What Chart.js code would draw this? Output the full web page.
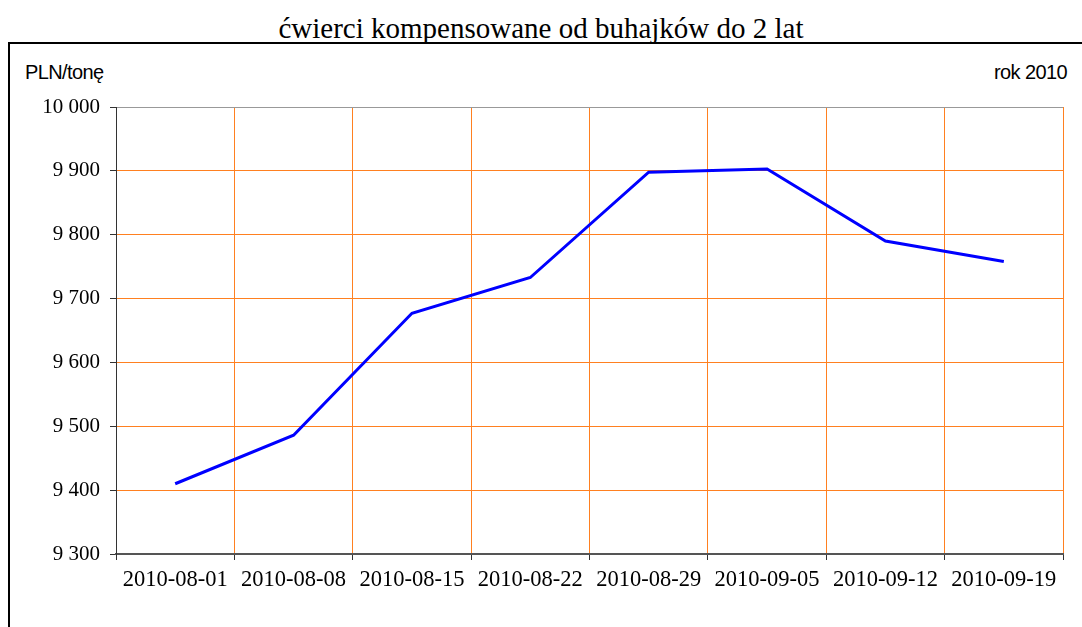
<!DOCTYPE html>
<html>
<head>
<meta charset="utf-8">
<script src="https://cdn.jsdelivr.net/npm/chart.js@4"></script>
<style>
  body { margin: 0; background: #fff; width: 1082px; height: 627px; overflow: hidden; position: relative; }
  #title { position: absolute; left: 0; width: 1082px; top: 14px; line-height: 29px; text-align: center; font-family: "Liberation Serif", serif; font-size: 29px; color: #000; }
  #frame { position: absolute; left: 8px; top: 42px; width: 1200px; height: 700px; border: 2px solid #000; }
  .side { position: absolute; top: 61px; font: 20px "Liberation Sans", Arial, sans-serif; letter-spacing: -0.6px; color: #000; }
  #unit { left: 25px; }
  #year { right: 15px; }
  #chart { position: absolute; left: 0; top: 0; }
</style>
</head>
<body>
<div id="title">ćwierci kompensowane od buhajków do 2 lat</div>
<div id="frame"></div>
<div class="side" id="unit">PLN/tonę</div>
<div class="side" id="year">rok 2010</div>
<canvas id="chart" width="1082" height="627"></canvas>
<script>
const labels = ['2010-08-01', '2010-08-08', '2010-08-15', '2010-08-22', '2010-08-29', '2010-09-05', '2010-09-12', '2010-09-19'];
const prices = [9410, 9486, 9677, 9733, 9898, 9903, 9790, 9758];
const yMin = 9300;
const yMax = 10000;
const yStep = 100;

const orange = '#ff8020';
const serifFamily = '"Liberation Serif", "Times New Roman", serif';

const fmt = v => String(v).replace(/\B(?=(\d{3})+(?!\d))/g, ' ');

new Chart(document.getElementById('chart'), {
    type: 'line',
    data: {
        labels: labels,
        datasets: [{
            data: prices,
            borderColor: '#0000ff',
            borderWidth: 3,
            pointRadius: 0,
            tension: 0,
            fill: false
        }]
    },
    options: {
        responsive: false,
        animation: false,
        layout: { padding: { left: 0, top: 107, right: 19, bottom: 23 } },
        plugins: { legend: { display: false }, tooltip: { enabled: false } },
        scales: {
            x: {
                offset: true,
                grid: {
                    offset: true,
                    color: ctx => ctx.index === 0 ? '#333' : (ctx.index === labels.length ? '#999' : orange),
                    lineWidth: 1,
                    tickLength: 6,
                    tickColor: '#333'
                },
                border: { color: '#555', width: 2 },
                ticks: { color: '#000', font: { family: serifFamily, size: 22.5 }, padding: 7, maxRotation: 0, autoSkip: false },
                afterFit: s => { s.height = 50; }
            },
            y: {
                min: yMin,
                max: yMax,
                grid: {
                    color: ctx => ctx.tick && ctx.tick.value === yMax ? '#999' : orange,
                    lineWidth: 1,
                    tickLength: 6,
                    tickColor: '#333'
                },
                border: { color: '#333', width: 1 },
                ticks: { stepSize: yStep, color: '#000', font: { family: serifFamily, size: 21 }, padding: 10, callback: v => fmt(v) },
                afterFit: s => { s.width = 116; }
            }
        }
    }
});
</script>
</body>
</html>
